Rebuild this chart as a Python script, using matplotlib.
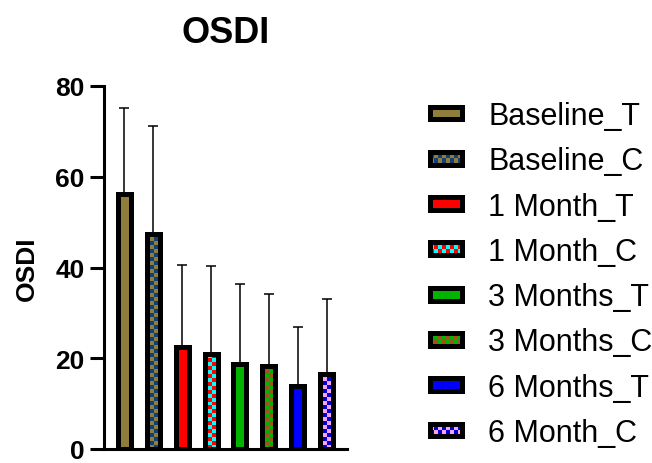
import numpy as np
import matplotlib
matplotlib.use('Agg')
import matplotlib.pyplot as plt
from matplotlib.patches import Rectangle, Patch
from matplotlib.legend_handler import HandlerBase
from matplotlib.colors import to_rgb

plt.rcParams['font.family'] = ['Liberation Sans', 'DejaVu Sans']

# values (mean, SD)
groups = ['Baseline_T', 'Baseline_C', '1 Month_T', '1 Month_C',
          '3 Months_T', '3 Months_C', '6 Months_T', '6 Month_C']
means = [56.1, 47.4, 22.4, 20.9, 18.8, 18.2, 13.8, 16.6]
sds = [19.0, 23.7, 18.2, 19.4, 17.6, 16.0, 13.0, 16.5]
# main fill colour and, for the checkered bars, second colour
colors_a = ['#8f7e3b', '#8f7e3b', '#ff0000', '#ff0000', '#00b400', '#00b400', '#0000ff', '#0000d0']
colors_b = [None, '#123e7a', None, '#00ffff', None, '#a0521e', None, '#f7a1f0']


def checker(c1, c2, nrows, ncols):
    a, b = np.array(to_rgb(c1)), np.array(to_rgb(c2))
    img = np.empty((nrows, ncols, 3))
    for i in range(nrows):
        for j in range(ncols):
            img[i, j] = a if (i + j) % 2 == 0 else b
    return img


class BarHandler(HandlerBase):
    # legend box with thick black border, plain or checkered
    def __init__(self, c1, c2):
        super().__init__()
        self.c1, self.c2 = c1, c2

    def create_artists(self, legend, orig_handle, xdescent, ydescent,
                       width, height, fontsize, trans):
        x0, y0 = -xdescent, -ydescent
        arts = [Rectangle((x0, y0), width, height, facecolor=self.c1,
                          edgecolor='none', transform=trans)]
        if self.c2 is not None:
            ncols, nrows = 8, 2
            cw, ch = width / ncols, height / nrows
            for i in range(nrows):
                for j in range(ncols):
                    if (i + j) % 2:
                        arts.append(Rectangle((x0 + j * cw, y0 + i * ch), cw, ch,
                                              facecolor=self.c2, edgecolor='none',
                                              transform=trans))
        arts.append(Rectangle((x0, y0), width, height, facecolor='none',
                              edgecolor='black', linewidth=3.6, transform=trans))
        return arts


fig = plt.figure(figsize=(6.52, 4.64), dpi=100)
ax = fig.add_axes([104 / 652, 14 / 464, 243 / 652, 363 / 464])
ax.set_xlim(-0.7, 7.7)
ax.set_ylim(0, 80)
ax.autoscale(False)

x = np.arange(len(groups))
bw = 0.45
bars = ax.bar(x, means, bw, color=colors_a, edgecolor='none', zorder=2)
for bar, c1, c2 in zip(bars, colors_a, colors_b):
    if c2 is None:
        continue
    x0, w, h = bar.get_x(), bar.get_width(), bar.get_height()
    hpx = ax.transData.transform((0, h))[1] - ax.transData.transform((0, 0))[1]
    nrows = max(1, int(round(hpx / 4)))
    im = ax.imshow(checker(c1, c2, nrows, 2), extent=(x0, x0 + w, 0, h),
                   origin='lower', aspect='auto', interpolation='nearest', zorder=3)
    im.set_clip_path(bar)
ax.bar(x, means, bw, color='none', edgecolor='black', linewidth=3.6, zorder=4)
ax.errorbar(x, means, yerr=[np.zeros(len(x)), sds], fmt='none', ecolor='black',
            elinewidth=1.1, capsize=3.6, capthick=1.1, zorder=1)

for s in ['top', 'right']:
    ax.spines[s].set_visible(False)
for s in ['left', 'bottom']:
    ax.spines[s].set_linewidth(2.2)
ax.set_xticks([])
ax.set_yticks([0, 20, 40, 60, 80])
ax.tick_params(axis='y', direction='out', length=10, width=2.2, labelsize=19, pad=4)
for lbl in ax.get_yticklabels():
    lbl.set_fontweight('bold')

ax.set_title('OSDI', fontsize=26, fontweight='bold', pad=32)
ax.set_ylabel('OSDI', fontsize=19, fontweight='bold', labelpad=12)

handles = [Patch(label=g) for g in groups]
hmap = {h: BarHandler(a, b) for h, a, b in zip(handles, colors_a, colors_b)}
fig.legend(handles=handles, handler_map=hmap, loc='upper left',
           bbox_to_anchor=(0.660, 0.78), frameon=False, fontsize=22,
           handlelength=1.05, handleheight=0.27, handletextpad=0.85,
           labelspacing=0.5, borderpad=0, borderaxespad=0)

fig.savefig('out.png', dpi=100)
